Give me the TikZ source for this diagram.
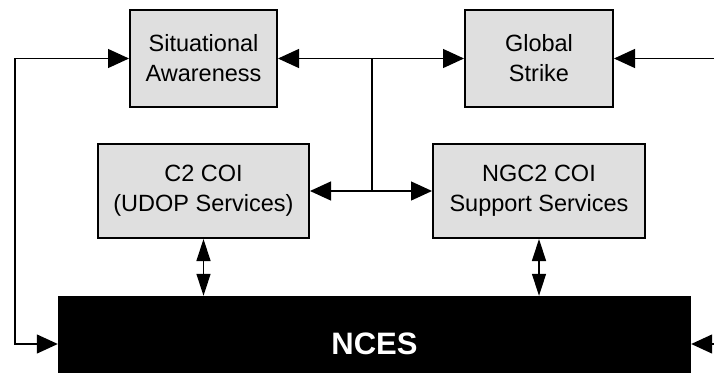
\documentclass[tikz,border=0pt]{standalone}
\usepackage{fontspec}
\setmainfont{Liberation Sans}
\usetikzlibrary{arrows.meta}
\tikzset{bigtip/.tip={Triangle[length=21pt,width=19pt]}}
\tikzset{slimtip/.tip={Triangle[length=22pt,width=14pt]}}
\tikzstyle{svc} = [rectangle, draw=black, line width=2pt, fill=gray!25, align=center, font=\fontsize{23.5}{30}\selectfont]
\tikzstyle{link} = [line width=1.3pt, draw=black]

\begin{document}
\begin{tikzpicture}[x=1pt, y=-1pt]
\useasboundingbox (0, 0) rectangle (714, 372);
\node [svc, minimum width=147pt, minimum height=97pt] (SA) at (203.5, 58.5) {Situational\\Awareness};
\node [svc, minimum width=148pt, minimum height=97pt] (GS) at (539, 58.5) {Global\\Strike};
\node [svc, minimum width=211pt, minimum height=94pt] (C2) at (203.5, 191) {C2 COI\\(UDOP Services)};
\node [svc, minimum width=212pt, minimum height=94pt] (NGC2) at (539, 191) {NGC2 COI\\Support Services};
\node [rectangle, fill=black, text=white, minimum width=633pt, minimum height=96pt, font=\fontsize{31}{36}\selectfont\bfseries] (NCES) at (374.5, 344) {NCES};

\coordinate (loopL) at (15, 0);
\coordinate (J) at (372, 58.5);
\coordinate (inGS) at (714, 58.5);
\coordinate (inNCES) at (714, 344);

\draw [{bigtip}-{bigtip}, link] (SA.west) -- (SA.west -| loopL) |- (NCES.west);
\draw [{bigtip}-{bigtip}, link] (SA.east) to (GS.west);
\draw [-{bigtip}, link] (inGS) to (GS.east);
\draw [link] (J) -- (J |- C2.east);
\draw [{bigtip}-{bigtip}, link] (C2.east) to (NGC2.west);
\draw [{slimtip}-{slimtip}, link] (C2.south) -- (C2.south |- NCES.north);
\draw [{slimtip}-{slimtip}, link] (NGC2.south) -- (NGC2.south |- NCES.north);
\draw [-{bigtip}, link] (inNCES) to (NCES.east);
\end{tikzpicture}
\end{document}
